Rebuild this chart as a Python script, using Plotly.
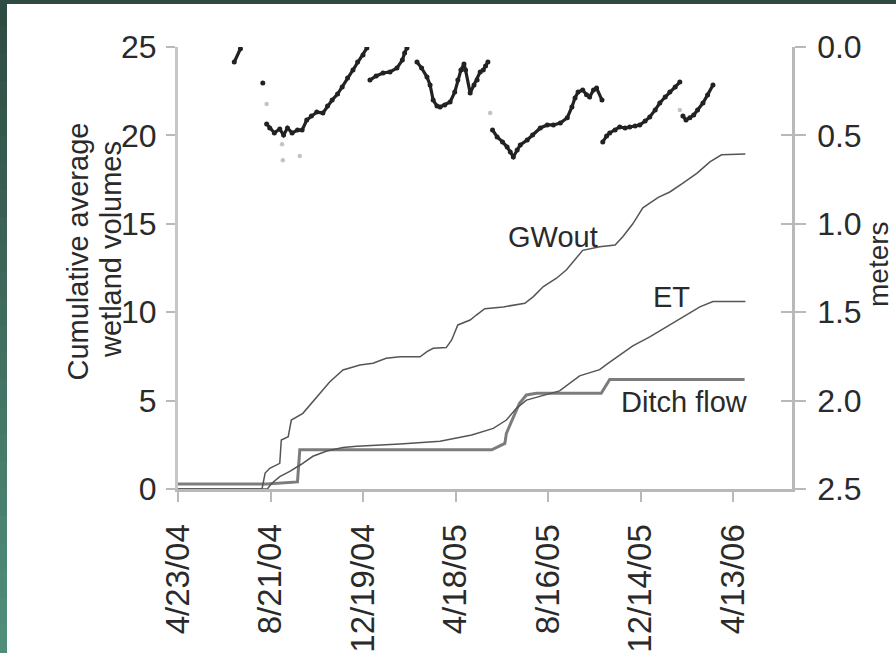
import plotly.graph_objects as go

# ---------------- data ----------------
x_tick_dates = ["2004-04-23", "2004-08-21", "2004-12-19", "2005-04-18",
                "2005-08-16", "2005-12-14", "2006-04-13"]
x_tick_labels = ["4/23/04", "8/21/04", "12/19/04", "4/18/05",
                 "8/16/05", "12/14/05", "4/13/06"]
left_ticks = [0, 5, 10, 15, 20, 25]
right_ticks = [0.0, 0.5, 1.0, 1.5, 2.0, 2.5]

gw_dates = ["2004-04-23", "2004-08-10", "2004-08-14", "2004-08-20", "2004-09-02",
            "2004-09-04", "2004-09-13", "2004-09-17", "2004-10-02", "2004-10-19",
            "2004-11-06", "2004-11-23", "2004-12-15", "2005-01-01", "2005-01-18",
            "2005-02-05", "2005-03-03", "2005-03-12", "2005-03-20", "2005-04-06",
            "2005-04-13", "2005-04-21", "2005-05-07", "2005-05-15", "2005-05-26",
            "2005-06-19", "2005-07-17", "2005-07-28", "2005-08-10", "2005-08-27",
            "2005-09-09", "2005-09-30", "2005-10-22", "2005-11-11", "2005-11-21",
            "2005-12-04", "2005-12-17", "2006-01-06", "2006-01-21", "2006-02-07",
            "2006-02-25", "2006-03-14", "2006-03-29", "2006-04-29"]
gw_vals = [0, 0, 0.9, 1.17, 1.45,
           2.77, 2.96, 3.9, 4.28, 5.13,
           6.07, 6.73, 7.01, 7.11, 7.39,
           7.48, 7.48, 7.77, 7.96, 8.0,
           8.43, 9.28, 9.56, 9.84, 10.2,
           10.3, 10.5, 10.88, 11.45, 11.92,
           12.4, 13.5, 13.7, 13.8, 14.27,
           15.0, 15.9, 16.5, 16.8, 17.3,
           17.85, 18.5, 18.9, 18.95]

et_dates = ["2004-04-23", "2004-08-17", "2004-08-22", "2004-09-02", "2004-09-15",
            "2004-09-30", "2004-10-15", "2004-11-02", "2004-11-23", "2004-12-11",
            "2005-02-05", "2005-03-29", "2005-05-09", "2005-06-06", "2005-06-23",
            "2005-07-06", "2005-07-19", "2005-08-14", "2005-08-31", "2005-09-26",
            "2005-10-22", "2005-10-31", "2005-11-17", "2005-12-04", "2005-12-26",
            "2006-01-17", "2006-02-07", "2006-03-01", "2006-03-18", "2006-04-29"]
et_vals = [0, 0, 0.3, 0.7, 1.0,
           1.4, 1.85, 2.15, 2.35, 2.42,
           2.55, 2.7, 3.05, 3.43, 3.9,
           4.56, 5.03, 5.32, 5.55, 6.4,
           6.75, 7.05, 7.55, 8.1, 8.6,
           9.18, 9.7, 10.3, 10.6, 10.6]

ditch_dates = ["2004-04-23", "2004-08-16", "2004-09-25", "2004-09-28", "2005-06-04",
               "2005-06-21", "2005-06-23", "2005-07-04", "2005-07-10", "2005-07-19",
               "2005-08-01", "2005-10-24", "2005-11-04", "2006-04-28"]
ditch_vals = [0.28, 0.28, 0.4, 2.22, 2.22,
              2.58, 3.15, 4.28, 4.85, 5.32,
              5.41, 5.41, 6.19, 6.19]

# groundwater level (meters below surface), None separates the recorded stretches
wl_dates = ["2004-07-05", "2004-07-13", None,
            "2004-08-11", None,
            "2004-08-16", "2004-08-20", "2004-08-26", "2004-09-02", "2004-09-07",
            "2004-09-12", "2004-09-18", "2004-09-25", "2004-10-01", "2004-10-07",
            "2004-10-13", "2004-10-20", "2004-10-28", "2004-11-03", "2004-11-09",
            "2004-11-16", "2004-11-22", "2004-11-29", "2004-12-06", "2004-12-12",
            "2004-12-19", "2004-12-24", None,
            "2004-12-28", "2005-01-05", "2005-01-14", "2005-01-23", "2005-02-01",
            "2005-02-08", "2005-02-11", "2005-02-14", None,
            "2005-02-27", "2005-03-05", "2005-03-12", "2005-03-16", "2005-03-20",
            "2005-03-25", "2005-03-29", "2005-04-04", "2005-04-11", "2005-04-17",
            "2005-04-21", "2005-04-25", "2005-04-29", "2005-05-01", "2005-05-07",
            "2005-05-12", "2005-05-16", "2005-05-20", "2005-05-24", "2005-05-27",
            "2005-05-30", None,
            "2005-06-05", "2005-06-11", "2005-06-18", "2005-06-24", "2005-06-28",
            "2005-07-02", "2005-07-07", "2005-07-11", "2005-07-20", "2005-07-27",
            "2005-08-06", "2005-08-15", "2005-08-23", "2005-09-01", "2005-09-10",
            "2005-09-16", "2005-09-20", "2005-09-24", "2005-09-30", "2005-10-05",
            "2005-10-09", "2005-10-14", "2005-10-18", "2005-10-25", None,
            "2005-10-26", "2005-10-31", "2005-11-04", "2005-11-11", "2005-11-17",
            "2005-11-24", "2005-11-30", "2005-12-07", "2005-12-13", "2005-12-20",
            "2005-12-26", "2006-01-02", "2006-01-08", "2006-01-15", "2006-01-21",
            "2006-01-28", "2006-02-03", None,
            "2006-02-07", "2006-02-11", "2006-02-16", "2006-02-21", "2006-02-26",
            "2006-03-05", "2006-03-11", "2006-03-18"]
wl_m = [0.085, 0.01, None,
        0.204, None,
        0.435, 0.458, 0.486, 0.464, 0.498,
        0.458, 0.486, 0.470, 0.470, 0.413,
        0.39, 0.368, 0.373, 0.334, 0.30,
        0.266, 0.226, 0.175, 0.130, 0.085,
        0.045, 0.006, None,
        0.187, 0.164, 0.147, 0.141, 0.119,
        0.074, 0.034, 0.005, None,
        0.085, 0.119, 0.170, 0.215, 0.30,
        0.334, 0.339, 0.328, 0.311, 0.255,
        0.187, 0.130, 0.096, 0.13, 0.26,
        0.215, 0.187, 0.141, 0.130, 0.107,
        0.085, None,
        0.469, 0.509, 0.537, 0.566, 0.594,
        0.622, 0.583, 0.554, 0.526, 0.498,
        0.458, 0.441, 0.441, 0.43, 0.40,
        0.339, 0.288, 0.255, 0.243, 0.27,
        0.283, 0.243, 0.232, 0.30, None,
        0.537, 0.503, 0.486, 0.469, 0.452,
        0.458, 0.452, 0.447, 0.441, 0.419,
        0.396, 0.356, 0.317, 0.283, 0.255,
        0.226, 0.198, None,
        0.39, 0.413, 0.40, 0.385, 0.356,
        0.317, 0.271, 0.215]

faint_dates = ["2004-08-16", "2004-09-05", "2004-09-06", "2004-09-28", "2005-06-02", "2006-02-03"]
faint_m = [0.322, 0.55, 0.64, 0.617, 0.373, 0.356]

# ---------------- layout geometry ----------------
W, H = 896, 653
L, R, T, B = 178, 104, 47, 164
PW, PH = W - L - R, H - T - B


def pxx(p):
    return (p - L) / PW


def pxy(q):
    return (H - B - q) / PH


FONT = "Liberation Sans, Arial, sans-serif"
TXT = "#2a2a2a"
AX = "#b9b9b9"

fig = go.Figure()

fig.add_trace(go.Scatter(x=ditch_dates, y=ditch_vals, mode="lines",
                         line=dict(color="#7c7c7c", width=3), yaxis="y",
                         showlegend=False, hoverinfo="skip"))
fig.add_trace(go.Scatter(x=et_dates, y=et_vals, mode="lines",
                         line=dict(color="#555555", width=1.5), yaxis="y",
                         showlegend=False))
fig.add_trace(go.Scatter(x=gw_dates, y=gw_vals, mode="lines",
                         line=dict(color="#555555", width=1.5), yaxis="y",
                         showlegend=False))
fig.add_trace(go.Scatter(x=faint_dates, y=faint_m, mode="markers",
                         marker=dict(color="#c4c4c4", size=4.5), yaxis="y2",
                         showlegend=False))
fig.add_trace(go.Scatter(x=wl_dates, y=wl_m, mode="lines+markers",
                         line=dict(color="#222222", width=3.2),
                         marker=dict(color="#222222", size=5),
                         connectgaps=False, yaxis="y2", showlegend=False))
fig.add_trace(go.Scatter(x=[], y=[], yaxis="y3", showlegend=False))

tickfont = dict(family=FONT, size=32, color=TXT)

fig.update_layout(
    width=W, height=H,
    margin=dict(l=L, r=R, t=T, b=B, autoexpand=False),
    paper_bgcolor="white", plot_bgcolor="white",
    showlegend=False,
    xaxis=dict(type="date", range=["2004-04-23", "2006-06-28 12:00"],
               tickvals=x_tick_dates, ticktext=x_tick_labels, tickangle=-90,
               tickfont=dict(family=FONT, size=33, color=TXT),
               ticks="outside", ticklen=10, tickwidth=2,
               tickcolor=AX, showline=True, linecolor=AX, linewidth=3,
               showgrid=False, zeroline=False, automargin=False,
               ticklabelstandoff=9),
    yaxis=dict(range=[0, 25], tickvals=left_ticks, tickfont=tickfont,
               ticks="outside", ticklen=9, tickwidth=2, tickcolor=AX,
               showline=True, linecolor="#c6c6c6", linewidth=3,
               showgrid=False, zeroline=False, automargin=False,
               ticklabelstandoff=3),
    yaxis2=dict(range=[2.5, 0], tickvals=right_ticks, tickformat=".1f",
                tickfont=tickfont, overlaying="y", side="right", anchor="x",
                ticks="outside", ticklen=11, tickwidth=2, tickcolor=AX,
                showline=True, linecolor=AX, linewidth=2.5,
                showgrid=False, zeroline=False, automargin=False,
                ticklabelstandoff=5),
    yaxis3=dict(range=[2.5, 0], tickvals=right_ticks, overlaying="y",
                side="right", anchor="x", ticks="inside", ticklen=11,
                tickwidth=2, tickcolor=AX, showticklabels=False,
                showline=False, showgrid=False, zeroline=False,
                automargin=False),
)

annots = [
    dict(text="GWout", x="2005-08-23", y=14.25, xref="x", yref="y",
         font=dict(family=FONT, size=29, color=TXT), showarrow=False),
    dict(text="ET", x="2006-01-23", y=10.85, xref="x", yref="y",
         font=dict(family=FONT, size=29, color=TXT), showarrow=False),
    dict(text="Ditch flow", x="2006-02-09", y=4.9, xref="x", yref="y",
         font=dict(family=FONT, size=29, color=TXT), showarrow=False),
    dict(text="Cumulative average", x=pxx(77.5), y=pxy(252), xref="paper",
         yref="paper", textangle=-90, showarrow=False,
         font=dict(family=FONT, size=29, color=TXT)),
    dict(text="wetland volumes", x=pxx(111), y=pxy(250), xref="paper",
         yref="paper", textangle=-90, showarrow=False,
         font=dict(family=FONT, size=29, color=TXT)),
    dict(text="meters", x=pxx(878), y=pxy(264), xref="paper",
         yref="paper", textangle=-90, showarrow=False,
         font=dict(family=FONT, size=28, color=TXT)),
]
for a in annots:
    fig.add_annotation(xanchor="center", yanchor="middle", **a)

# dark green slide frame: top band and left gradient strip
shapes = [dict(type="rect", xref="paper", yref="paper",
               x0=pxx(0), x1=pxx(W), y0=pxy(4), y1=pxy(0),
               fillcolor="#2e4a42", line=dict(width=0), layer="above")]
c0 = (0x2e, 0x4a, 0x42)
c1 = (0x52, 0x90, 0x7c)
n = 24
for i in range(n):
    q0 = H * i / n
    q1 = H * (i + 1) / n
    f = (i + 0.5) / n
    col = "rgb({},{},{})".format(*[int(a + (b - a) * f) for a, b in zip(c0, c1)])
    shapes.append(dict(type="rect", xref="paper", yref="paper",
                       x0=pxx(0), x1=pxx(7), y0=pxy(q1), y1=pxy(q0) + 0.002,
                       fillcolor=col, line=dict(width=0), layer="above"))
fig.update_layout(shapes=shapes)

fig.write_html("out.html",
               config={"displayModeBar": False},
               post_script="document.body.style.margin='0';"
                           "document.body.style.overflow='hidden';")
